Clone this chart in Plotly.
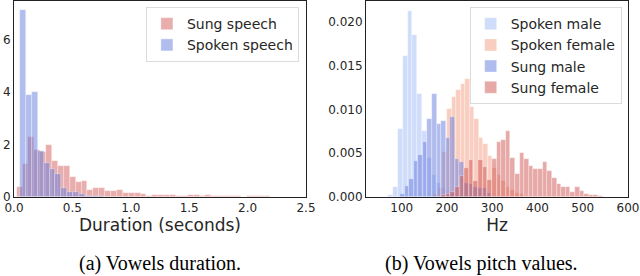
import plotly.graph_objects as go
from plotly.subplots import make_subplots

# ---- (a) Vowel duration histograms (density) ----
dur_bin_width = 0.0505
sung_dur_start = 0.023
sung_dur_density = [0.39, 1.25, 2.29, 1.81, 1.72, 2.0, 1.38, 1.18, 1.18, 0.77, 0.58, 0.62,
                    0.27, 0.35, 0.35, 0.24, 0.24, 0.27, 0.16, 0.16, 0.16, 0.10, 0.05, 0.08,
                    0.07, 0.06, 0.07, 0.03, 0.03, 0.07, 0.06, 0.04, 0.07, 0.03, 0.03, 0.03,
                    0.02, 0.03, 0.01, 0.04, 0.04, 0.04, 0.04]
spoken_dur_start = 0.0515
spoken_dur_density = [7.13, 3.89, 4.0, 1.75, 1.29, 1.06, 0.87, 0.35, 0.2, 0.18, 0.1, 0.05, 0.03, 0.02]

# ---- (b) Vowel pitch histograms (density) ----
spoken_male_start, spoken_male_width = 70.4, 10.6
spoken_male_density = [0.0002, 0.0012, 0.0078, 0.0161, 0.0213, 0.0185, 0.0118, 0.0076, 0.0045,
                       0.0025, 0.0016, 0.001, 0.0007, 0.0004, 0.0002]
spoken_female_start, spoken_female_width = 170.0, 10.0
spoken_female_density = [0.0003, 0.001, 0.0051, 0.0101, 0.0114, 0.0122, 0.0129, 0.0135, 0.0103,
                         0.0089, 0.0068, 0.0061, 0.0047, 0.0033, 0.0025, 0.0018, 0.0012, 0.0008,
                         0.0005, 0.0003]
sung_male_start, sung_male_width = 96.2, 10.1
sung_male_density = [0.0003, 0.00125, 0.0021, 0.0041, 0.0048, 0.0063, 0.0089, 0.0118, 0.0084,
                     0.0087, 0.0067, 0.0091, 0.0044, 0.004, 0.0016, 0.0015, 0.0012, 0.001, 0.001,
                     0.0005]
sung_female_start, sung_female_width = 187.0, 10.2
sung_female_density = [0.0002, 0.0003, 0.0006, 0.0012, 0.0024, 0.0033, 0.0042, 0.0018, 0.0042,
                       0.0034, 0.0019, 0.0044, 0.0063, 0.0065, 0.0076, 0.0045, 0.0026, 0.005,
                       0.0044, 0.0035, 0.0032, 0.0032, 0.004, 0.003, 0.0022, 0.0015, 0.0011,
                       0.0011, 0.0006, 0.0011, 0.0007, 0.0004, 0.0002, 0.0002, 0.0001]

dur_ticks = [0.0, 0.5, 1.0, 1.5, 2.0, 2.5]
dur_yticks = [0, 2, 4, 6]
pitch_ticks = [100, 200, 300, 400, 500, 600]
pitch_yticks = [0.0, 0.005, 0.010, 0.015, 0.020]


def centers(start, width, n):
    return [start + width * (i + 0.5) for i in range(n)]


TXT = "#262626"
FONT = "DejaVu Sans"
EDGE = dict(color="rgba(255,255,255,0.55)", width=0.6)

fig = make_subplots(rows=1, cols=2)


def add_hist(name, start, width, dens, color, col, legend):
    fig.add_trace(go.Bar(
        name=name, x=centers(start, width, len(dens)), y=dens, width=width,
        marker=dict(color=color, line=EDGE), legend=legend, showlegend=True,
        hoverinfo="skip"), row=1, col=col)


add_hist("Sung speech", sung_dur_start, dur_bin_width, sung_dur_density,
         "rgba(210,92,90,0.5)", 1, "legend")
add_hist("Spoken speech", spoken_dur_start, dur_bin_width, spoken_dur_density,
         "rgba(100,124,222,0.5)", 1, "legend")

add_hist("Spoken male", spoken_male_start, spoken_male_width, spoken_male_density,
         "rgba(160,187,246,0.5)", 2, "legend2")
add_hist("Spoken female", spoken_female_start, spoken_female_width, spoken_female_density,
         "rgba(243,156,128,0.5)", 2, "legend2")
add_hist("Sung male", sung_male_start, sung_male_width, sung_male_density,
         "rgba(100,121,222,0.5)", 2, "legend2")
add_hist("Sung female", sung_female_start, sung_female_width, sung_female_density,
         "rgba(207,84,80,0.5)", 2, "legend2")

axis_common = dict(showline=True, linecolor="#222", linewidth=1, mirror=True,
                   showgrid=False, zeroline=False, ticks="",
                   tickfont=dict(family=FONT, size=12, color=TXT))

fig.update_xaxes(**axis_common)
fig.update_yaxes(**axis_common)

fig.update_xaxes(domain=[0, 0.4756], range=[0, 2.5], tickvals=dur_ticks, tickformat=".1f",
                 title=dict(text="Duration (seconds)", font=dict(family=FONT, size=17, color=TXT),
                            standoff=1), row=1, col=1)
fig.update_yaxes(range=[0, 7.48], tickvals=dur_yticks, row=1, col=1)
fig.update_xaxes(domain=[0.5733, 1.0], range=[21, 600], tickvals=pitch_ticks,
                 title=dict(text="Hz", font=dict(family=FONT, size=17, color=TXT), standoff=1),
                 row=1, col=2)
fig.update_yaxes(range=[0, 0.0224], tickvals=pitch_yticks, tickformat=".3f", row=1, col=2)

legend_common = dict(xanchor="right", yanchor="top", bgcolor="white", bordercolor="#dcdcdc",
                     borderwidth=1, font=dict(family=FONT, size=14, color=TXT),
                     tracegroupgap=0, itemwidth=30)

fig.update_layout(
    width=640, height=276,
    margin=dict(l=14, r=12, t=1, b=79),
    paper_bgcolor="white", plot_bgcolor="white",
    barmode="overlay", bargap=0,
    legend=dict(x=0.464, y=0.969, **legend_common),
    legend2=dict(x=0.9897, y=0.969, **legend_common),
    annotations=[
        dict(text="(a) Vowels duration.", x=0.2378, y=-0.337, xref="paper", yref="paper",
             showarrow=False, xanchor="center", yanchor="middle",
             font=dict(family="Liberation Serif", size=20, color="black")),
        dict(text="(b) Vowels pitch values.", x=0.7617, y=-0.337, xref="paper", yref="paper",
             showarrow=False, xanchor="center", yanchor="middle",
             font=dict(family="Liberation Serif", size=20, color="black")),
    ],
)

fig.write_html("out.html", config={"displayModeBar": False},
               post_script="document.body.style.margin='0';document.body.style.overflow='hidden';")
